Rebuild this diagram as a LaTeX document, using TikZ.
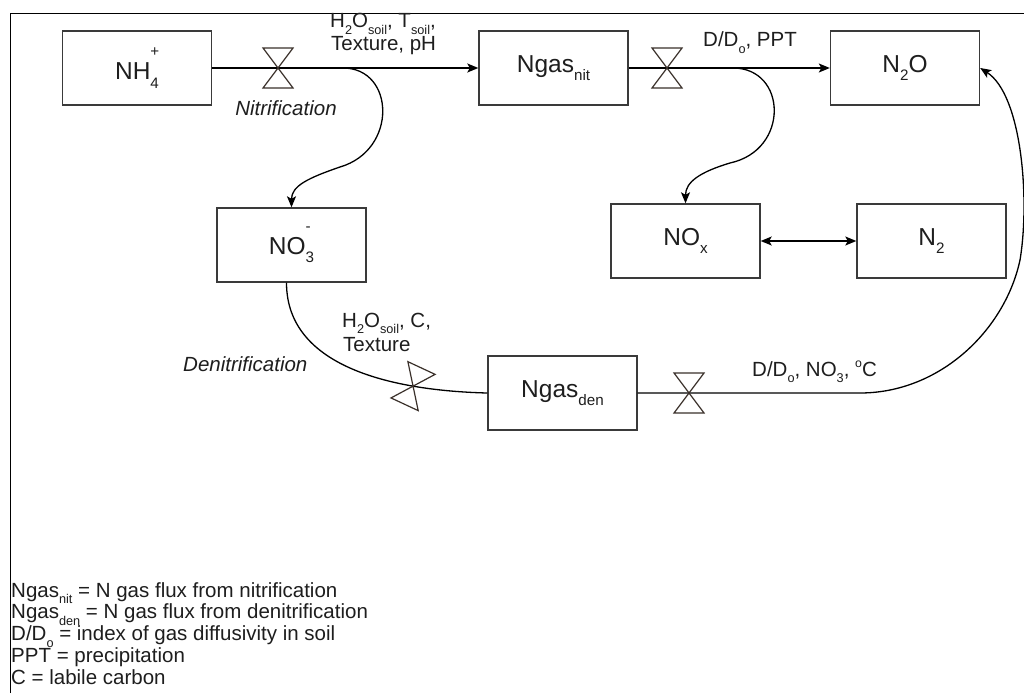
\documentclass[tikz,border=0pt]{standalone}
\usepackage{fontspec}
\usepackage{graphicx}
\setmainfont{Liberation Sans}
\usetikzlibrary{arrows.meta}

\definecolor{ink}{HTML}{1E1E1E}
\definecolor{boxline}{HTML}{3A3A3A}
\definecolor{valveline}{HTML}{3A302A}

% lowered / raised small text, and a stacked pair (sub below, sup above)
\newcommand\dn[1]{\raisebox{-0.33em}{\scalebox{0.62}{#1}}}
\newcommand\upr[1]{\raisebox{0.42em}{\scalebox{0.6}{#1}}}
\newcommand\stk[3]{\makebox[0pt][l]{\raisebox{#3}{\scalebox{0.62}{#2}}}\dn{#1}}

\tikzset{
  pool/.style={draw=boxline, line width=1.4pt, minimum width=149pt,
    minimum height=74pt, inner sep=0pt, text=ink,
    font=\fontsize{24.5}{28}\selectfont},
  flow/.style={draw=black, line width=1.3pt},
  tip/.style={-{Stealth[length=11pt,width=9pt,inset=2.5pt]}},
  twotip/.style={{Stealth[length=11pt,width=9pt,inset=2.5pt]}-{Stealth[length=11pt,width=9pt,inset=2.5pt]}},
  lbl/.style={inner sep=0pt, text=ink, font=\fontsize{20.5}{24}\selectfont},
  valve/.pic={\draw[draw=valveline, line width=1.2pt, line join=miter]
    (-15,-20) -- (15,-20) -- (-15,20) -- (15,20) -- cycle;}
}

\begin{document}
\begin{tikzpicture}[x=1pt, y=-1pt]
\useasboundingbox (0,0) rectangle (1024,693);
\fill[white] (0,0) rectangle (1024,693);

% frame
\draw[black, line width=1.3pt] (10.5,693) -- (10.5,13.3) -- (1024,13.3);

% nitrogen pools
\node[pool] (nh4)  at (137,68)    {NH\stk{4}{+}{0.95em}};
\node[pool] (nit)  at (553.5,68)  {Ngas\dn{nit}};
\node[pool] (n2o)  at (905,68)    {N\dn{2}O};
\node[pool] (no3)  at (291.5,245) {NO\stk{3}{-}{0.95em}};
\node[pool] (nox)  at (685.5,241) {NO\dn{x}};
\node[pool] (n2)   at (931.5,241) {N\dn{2}};
\node[pool] (den)  at (562.5,393) {Ngas\dn{den}};

% branch points and valve positions
\coordinate (v1) at (278,68);
\coordinate (v2) at (667,68);
\coordinate (b1) at (343,68);
\coordinate (b2) at (733,68);
\coordinate (v4) at (689,393);
\coordinate (k4) at (860,393);

% nitrification
\draw[flow, tip] (nh4.east) -- (nit.west);
\draw[flow, tip] (b1) .. controls (395,68) and (398,150) .. (340,167)
  .. controls (308,178) and (291.5,186) .. (no3.north);

% partition of nitrification gas
\draw[flow, tip] (nit.east) -- (n2o.west);
\draw[flow, tip] (b2) .. controls (787,68) and (790,150) .. (730,163)
  .. controls (700,172) and (685.5,182) .. (nox.north);

\draw[flow, twotip] (nox.east) -- (n2.west);

% denitrification
\draw[flow] ([xshift=-5pt]no3.south) .. controls (286.5,372) and (405,391) .. (den.west)
  coordinate[pos=0.72] (v3);
\draw[flow, tip] (den.east) -- (k4)
  .. controls (940,393) and (1005,330) .. (1020,260)
  .. controls (1030,200) and (1022,95) .. (n2o.east);

% valves
\pic at (v1) {valve};
\pic at (v2) {valve};
\pic[rotate=-25] at (v3) {valve};
\pic at (v4) {valve};

% controls and process names
\node[lbl, anchor=base west] (c1a) at (330,28) {H\dn{2}O\dn{soil}, T\dn{soil},};
\node[lbl, anchor=base west] (c1b) at (331,50) {Texture, pH};
\node[lbl, anchor=base, font=\fontsize{20.5}{24}\selectfont\itshape] (pnit) at (286,115) {Nitrification};
\node[lbl, anchor=base west] (c2) at (703,47) {D/D\dn{o}, PPT};
\node[lbl, anchor=base west] (c3a) at (342,327) {H\dn{2}O\dn{soil}, C,};
\node[lbl, anchor=base west] (c3b) at (343,351) {Texture};
\node[lbl, anchor=base west, font=\fontsize{20.5}{24}\selectfont\itshape] (pden) at (183,371.5) {Denitrification};
\node[lbl, anchor=base west] (c4) at (752,376) {D/D\dn{o}, NO\dn{3}, \upr{o}C};

% legend
\node[lbl, anchor=base west] (leg1) at (11,597) {Ngas\dn{nit} = N gas flux from nitrification};
\node[lbl, anchor=base west] (leg2) at (11,618.7) {Ngas\dn{den} = N gas flux from denitrification};
\node[lbl, anchor=base west] (leg3) at (11,640.5) {D/D\dn{o} = index of gas diffusivity in soil};
\node[lbl, anchor=base west] (leg4) at (11,662.2) {PPT = precipitation};
\node[lbl, anchor=base west] (leg5) at (11,684) {C = labile carbon};
\end{tikzpicture}
\end{document}
